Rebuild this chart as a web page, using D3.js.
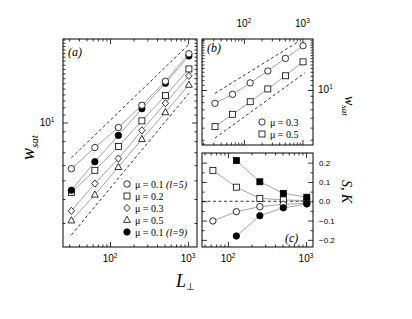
<!DOCTYPE html>
<html>
<head>
<meta charset="utf-8">
<script src="https://cdn.jsdelivr.net/npm/d3@7"></script>
<style>
  body { margin: 0; background: #fff; }
  text { fill: #000; }
</style>
</head>
<body>
<svg id="chart" width="412" height="319"></svg>
<script>
// panel (a): w_sat vs L
const L6 = [32, 64, 128, 256, 512, 1024];
const wMu01 = [5.75, 7.41, 9.42, 12.3, 16.4, 22.8];
const wMu02 = [4.32, 5.64, 7.51, 10.2, 13.8, 19.0];
const wMu03 = [3.47, 4.81, 6.49, 9.1, 12.6, 17.5];
const wMu05 = [3.09, 4.21, 5.86, 8.19, 11.3, 15.7];
const wMu01l9 = [4.44, 6.25, 8.57, 11.8, 16.0, 22.2];
const guideAUp = [[32, 6.55], [1024, 25.5]];
const guideALow = [[32, 2.6], [1024, 14.2]];
const legendA = ["μ = 0.1 |(l=5)", "μ = 0.2", "μ = 0.3", "μ = 0.5", "μ = 0.1 |(l=9)"];

// panel (b)
const wbMu03 = [7.83, 9.24, 11.4, 14.2, 17.9, 22.6];
const wbMu05 = [5.09, 6.39, 8.06, 10.2, 13.0, 16.8];
const guideBUp = [[32, 9.4], [840, 24.3]];
const guideBLow = [[32, 4.13], [1100, 13.7]];
const legendB = ["μ = 0.3", "μ = 0.5"];

// panel (c): S, K
const L5 = [64, 128, 256, 512, 1024];
const L4 = [128, 256, 512, 1024];
const cOpenSquare = [0.16, 0.073, 0.015, 0.007, 0.003];
const cOpenCircle = [-0.102, -0.054, -0.028, -0.016, -0.01];
const cFilledSquare = [0.211, 0.101, 0.041, 0.021];
const cFilledCircle = [-0.18, -0.075, -0.034, -0.014];
const cTicks = [-0.2, -0.1, 0.0, 0.1, 0.2];

const svg = d3.select("#chart");
const sans = "'Liberation Sans', Arial, sans-serif";
const serif = "'Liberation Serif', 'Times New Roman', serif";

const xa = d3.scaleLog().domain([25, 1300]).range([63, 197]);
const ya = d3.scaleLog().domain([2.25, 27.2]).range([247, 39]);
const xb = d3.scaleLog().domain([19.2, 1515]).range([202, 313]);
const yb = d3.scaleLog().domain([3.63, 25.6]).range([145, 39]);
const xc = d3.scaleLog().domain([46.4, 1230]).range([202, 313]);
const yc = d3.scaleLinear().domain([-0.237, 0.25]).range([247, 153]);

function logTicks(s) {
  const [a, b] = s.domain();
  const all = s.ticks(20).filter(v => v >= a && v <= b);
  const major = all.filter(v => Math.abs(Math.log10(v) - Math.round(Math.log10(v))) < 1e-9);
  const minor = all.filter(v => !major.includes(v));
  return { major, minor };
}

function ticksOn(g, axisFn, scale, pos, major, minor) {
  const t = g.append("g").attr("transform", pos);
  t.call(axisFn(scale).tickValues(major).tickSize(-5).tickFormat(""));
  const m = g.append("g").attr("transform", pos);
  m.call(axisFn(scale).tickValues(minor).tickSize(-2.5).tickFormat(""));
  [t, m].forEach(s => {
    s.select(".domain").remove();
    s.selectAll("line").attr("stroke", "#000").attr("stroke-width", 0.8);
  });
}

function frame(x, y, xt, yt) {
  const g = svg.append("g");
  const [x0, x1] = x.range(), [y1, y0] = y.range();
  ticksOn(g, d3.axisBottom, x, `translate(0,${y1})`, xt.major, xt.minor);
  ticksOn(g, d3.axisTop, x, `translate(0,${y0})`, xt.major, xt.minor);
  ticksOn(g, d3.axisLeft, y, `translate(${x0},0)`, yt.major, yt.minor);
  ticksOn(g, d3.axisRight, y, `translate(${x1},0)`, yt.major, yt.minor);
  g.append("rect").attr("x", x0).attr("y", y0).attr("width", x1 - x0).attr("height", y1 - y0)
    .attr("fill", "none").attr("stroke", "#000").attr("stroke-width", 1);
}

function powLabel(x, y, exp, anchor) {
  const t = svg.append("text").attr("x", x).attr("y", y).attr("text-anchor", anchor || "middle")
    .attr("font-family", sans).attr("font-size", 10);
  t.append("tspan").text("10");
  t.append("tspan").attr("font-size", 6.5).attr("dy", -4).text(exp);
}

function marker(g, shape, cx, cy) {
  const s = g.append("g").attr("transform", `translate(${cx},${cy})`);
  const st = { fill: shape.startsWith("f") ? "#000" : "#fff", stroke: "#000", sw: 0.8 };
  let el;
  if (shape.endsWith("circle")) el = s.append("circle").attr("r", 3.2);
  else if (shape.endsWith("square")) el = s.append("rect").attr("x", -3).attr("y", -3).attr("width", 6).attr("height", 6);
  else if (shape === "diamond") el = s.append("path").attr("d", "M0,-3.6L3.2,0L0,3.6L-3.2,0Z");
  else el = s.append("path").attr("d", "M0,-3.8L3.4,2.4L-3.4,2.4Z");
  el.attr("fill", st.fill).attr("stroke", st.stroke).attr("stroke-width", st.sw);
}

function series(x, y, xs, ys, shape) {
  const g = svg.append("g");
  const pts = xs.map((d, i) => [d, ys[i]]);
  g.append("path").datum(pts)
    .attr("d", d3.line().x(d => x(d[0])).y(d => y(d[1])))
    .attr("fill", "none").attr("stroke", "#999").attr("stroke-width", 0.9);
  pts.forEach(d => marker(g, shape, x(d[0]), y(d[1])));
}

function guide(x, y, pts) {
  svg.append("path").datum(pts)
    .attr("d", d3.line().x(d => x(d[0])).y(d => y(d[1])))
    .attr("fill", "none").attr("stroke", "#000").attr("stroke-width", 0.8)
    .attr("stroke-dasharray", "3,2.5");
}

// ---- panel (a)
frame(xa, ya, logTicks(xa), logTicks(ya));
guide(xa, ya, guideAUp);
guide(xa, ya, guideALow);
series(xa, ya, L6, wMu05, "triangle");
series(xa, ya, L6, wMu03, "diamond");
series(xa, ya, L6, wMu02, "square");
series(xa, ya, L6, wMu01l9, "fcircle");
series(xa, ya, L6, wMu01, "circle");
powLabel(xa(100), 262, "2");
powLabel(xa(1000), 262, "3");
powLabel(47, 126, "1");
svg.append("text").attr("x", 68).attr("y", 56).attr("font-family", serif)
  .attr("font-style", "italic").attr("font-size", 12).text("(a)");

const legShapes = ["circle", "square", "diamond", "triangle", "fcircle"];
legendA.forEach((s, i) => {
  const yy = 184 + i * 12;
  marker(svg, legShapes[i], 127, yy);
  const t = svg.append("text").attr("x", 135).attr("y", yy + 3.5)
    .attr("font-family", serif).attr("font-size", 10);
  const [a, b] = s.split("|");
  t.append("tspan").text(a);
  if (b) t.append("tspan").attr("font-style", "italic").text(" " + b);
});

// ---- panel (b)
frame(xb, yb, logTicks(xb), logTicks(yb));
guide(xb, yb, guideBUp);
guide(xb, yb, guideBLow);
series(xb, yb, L6, wbMu05, "square");
series(xb, yb, L6, wbMu03, "circle");
powLabel(xb(100), 27, "2");
powLabel(xb(1000), 27, "3");
powLabel(318, yb(10) + 3, "1", "start");
svg.append("text").attr("x", 207).attr("y", 52).attr("font-family", serif)
  .attr("font-style", "italic").attr("font-size", 12).text("(b)");
legendB.forEach((s, i) => {
  const yy = 122 + i * 12;
  marker(svg, i ? "square" : "circle", 262, yy);
  svg.append("text").attr("x", 270).attr("y", yy + 3.5)
    .attr("font-family", serif).attr("font-size", 10).text(s);
});

// ---- panel (c)
const xct = logTicks(xc);
const yct = { major: cTicks, minor: d3.range(-0.2, 0.25, 0.05).map(v => +v.toFixed(2)).filter(v => !cTicks.includes(v)) };
frame(xc, yc, xct, yct);
svg.append("line").attr("x1", xc.range()[0]).attr("x2", xc.range()[1])
  .attr("y1", yc(0)).attr("y2", yc(0)).attr("stroke", "#000").attr("stroke-width", 0.8)
  .attr("stroke-dasharray", "3,2.5");
series(xc, yc, L5, cOpenSquare, "square");
series(xc, yc, L5, cOpenCircle, "circle");
series(xc, yc, L4, cFilledSquare, "fsquare");
series(xc, yc, L4, cFilledCircle, "fcircle");
cTicks.forEach(v => {
  svg.append("text").attr("x", 319).attr("y", yc(v) + 3).attr("font-family", sans)
    .attr("font-size", 8).text(v === 0 ? "0.0" : (v < 0 ? "\u2212" : "") + Math.abs(v).toFixed(1));
});
powLabel(xc(100), 262, "2");
powLabel(xc(1000), 262, "3");
svg.append("text").attr("x", 285).attr("y", 242).attr("font-family", serif)
  .attr("font-style", "italic").attr("font-size", 12).text("(c)");

// ---- axis titles
const wl = svg.append("text").attr("transform", "translate(34,160) rotate(-90)")
  .attr("font-family", serif).attr("font-style", "italic").attr("font-size", 18);
wl.append("tspan").text("w");
wl.append("tspan").attr("font-size", 11).attr("dy", 4).text("sat");

const wr = svg.append("text").attr("transform", "translate(345,96) rotate(90)")
  .attr("font-family", serif).attr("font-style", "italic").attr("font-size", 14);
wr.append("tspan").text("w");
wr.append("tspan").attr("font-size", 9).attr("dy", 3).text("sat");

const sk = svg.append("text").attr("transform", "translate(342,180) rotate(90)")
  .attr("font-family", serif).attr("font-style", "italic").attr("font-size", 14).text("S, K");

const lt = svg.append("text").attr("x", 176).attr("y", 287)
  .attr("font-family", serif).attr("font-style", "italic").attr("font-size", 18);
lt.append("tspan").text("L");
lt.append("tspan").attr("font-style", "normal").attr("font-size", 10).attr("dy", 3).text("\u22a5");
</script>
</body>
</html>
